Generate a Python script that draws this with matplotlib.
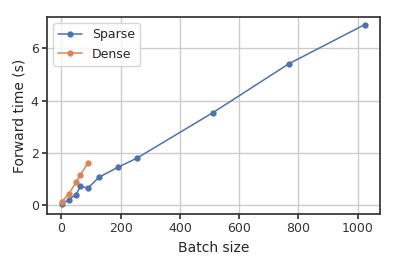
import matplotlib
matplotlib.use("Agg")
import matplotlib.pyplot as plt
import seaborn as sns

# batch sizes and forward times (s)
sparse_batch = [1, 25, 50, 64, 90, 128, 192, 256, 512, 768, 1024]
sparse_time = [0.02, 0.21, 0.40, 0.71, 0.65, 1.07, 1.45, 1.80, 3.54, 5.41, 6.91]
dense_batch = [1, 25, 50, 64, 90]
dense_time = [0.12, 0.41, 0.88, 1.15, 1.60]

sns.set_theme(style="whitegrid", palette="deep")
plt.rcParams.update({
    "axes.edgecolor": "#333333",
    "xtick.bottom": True,
    "ytick.left": True,
    "xtick.major.size": 3.5,
    "ytick.major.size": 3.5,
    "xtick.major.pad": 2.5,
    "ytick.major.pad": 2.5,
    "xtick.color": "#333333",
    "ytick.color": "#333333",
})
plt.rcParams["font.family"] = ["DejaVu Sans"]

fig, ax = plt.subplots(figsize=(3.99, 2.66), dpi=100)
ax.plot(sparse_batch, sparse_time, marker="o", markersize=3.5, linewidth=1.1,
        label="Sparse")
ax.plot(dense_batch, dense_time, marker="o", markersize=3.5, linewidth=1.1,
        label="Dense")

ax.set_xlim(-48, 1075)
ax.set_ylim(-0.35, 7.2)
ax.set_xticks([0, 200, 400, 600, 800, 1000])
ax.set_yticks([0, 2, 4, 6])
ax.tick_params(labelsize=9)
ax.set_xlabel("Batch size", fontsize=10)
ax.set_ylabel("Forward time (s)", fontsize=10, labelpad=3)
ax.legend(loc="upper left", fontsize=9, handlelength=1.9)

fig.subplots_adjust(left=0.118, right=0.952, top=0.936, bottom=0.195)
fig.savefig("out.png", dpi=100)
plt.close(fig)
